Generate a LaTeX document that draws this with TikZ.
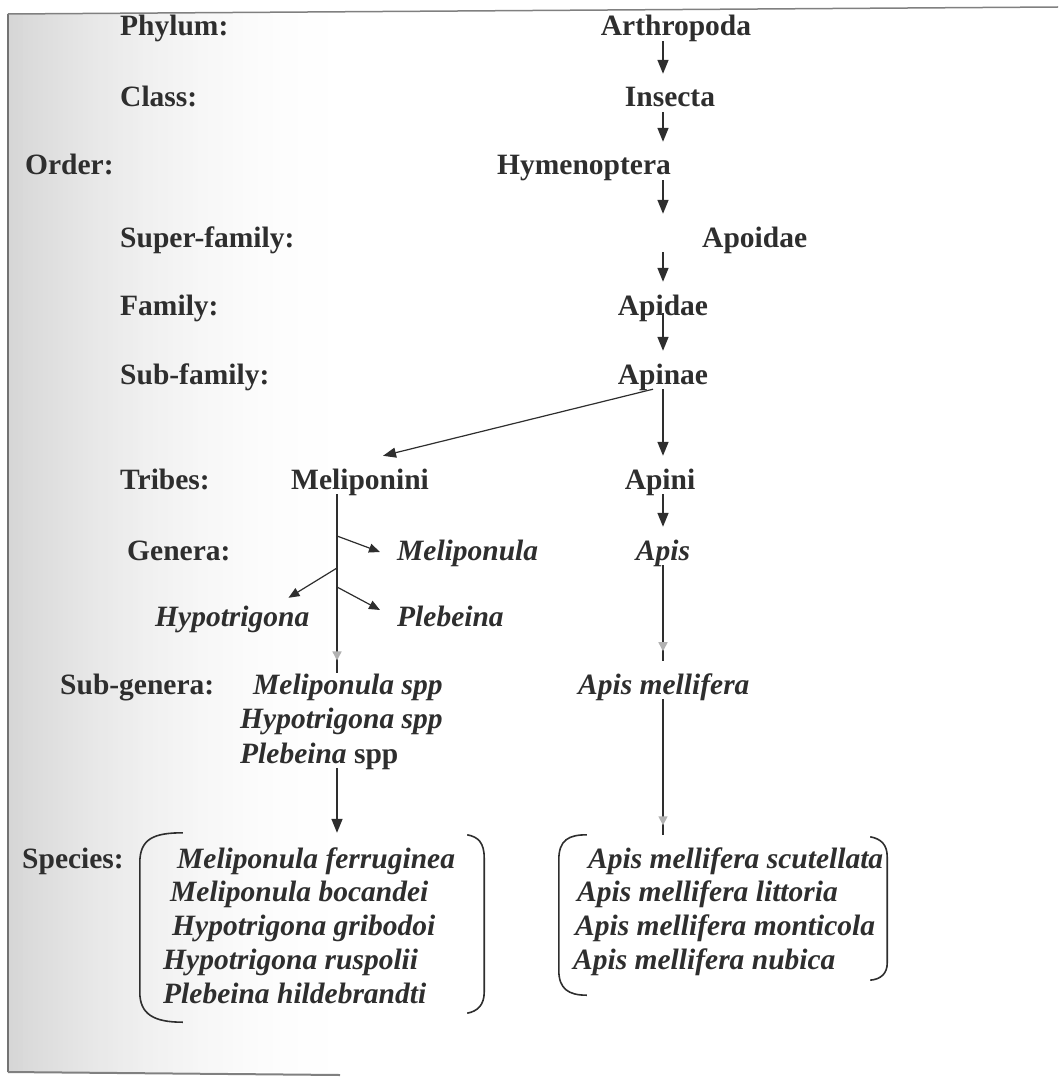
\documentclass[tikz,border=0pt]{standalone}
\usepackage{fontspec}
\setmainfont{Liberation Serif}
\usetikzlibrary{arrows.meta,decorations.markings}
\definecolor{ink}{HTML}{2E2E2E}
\begin{document}
\begin{tikzpicture}[x=1pt,y=-1pt,
  every node/.style={inner sep=0pt, text height=33pt, text depth=5pt, text=ink,
    font=\fontsize{29.5}{33}\selectfont\bfseries},
  lvl/.style={anchor=base west},
  tax/.style={anchor=base},
  taxw/.style={anchor=base west},
  spn/.style={anchor=base west, font=\fontsize{29.5}{33}\selectfont\bfseries\itshape},
  spc/.style={anchor=base, font=\fontsize{29.5}{33}\selectfont\bfseries\itshape},
  conn/.style={draw=ink, line width=1.5pt, -{Triangle[length=14pt,width=11pt]}},
  branch/.style={draw=ink, line width=1.2pt, -{Triangle[length=11pt,width=9pt]}},
  trunk/.style={draw=ink, line width=1.5pt},
  brk/.style={draw=ink, line width=1.6pt},
  ghost/.style={postaction=decorate, decoration={markings,
    mark=at position #1 with {\arrow{Triangle[length=9pt,width=9pt,color=black!30]}}}},
]
\useasboundingbox (0,0) rectangle (1058,1078);
% scan background (soft grey fading to the right) and frame
\foreach \i in {0,...,69} {
  \pgfmathsetmacro\shadeval{16*(1-\i/70)*(1-\i/70)}
  \fill[black!\shadeval] (8+\i*5,13) rectangle (8+\i*5+5.6,1072);
}
\draw[black!55, line width=2pt] (8,14) -- (8,1072);
\draw[black!50, line width=1.5pt] (8,14) -- (1058,7);
\draw[black!50, line width=2pt] (8,1072) -- (340,1075);

\coordinate (spine) at (663,0);
\coordinate (mtrunk) at (337,673);
\coordinate (b1) at (337,536);
\coordinate (b2) at (337,568);
\coordinate (b3) at (337,587);

% rank labels
\node[lvl] (lphy) at (120,36) {Phylum:};
\node[lvl] (lcla) at (120,107) {Class:};
\node[lvl] (lord) at (25,175) {Order:};
\node[lvl] (lsup) at (120,247) {Super-family:};
\node[lvl] (lfam) at (120,315) {Family:};
\node[lvl] (lsub) at (120,384) {Sub-family:};
\node[lvl] (ltri) at (120,489) {Tribes:};
\node[lvl] (lgen) at (127,560) {Genera:};
\node[lvl] (lsg) at (60,694) {Sub-genera:};
\node[lvl] (lspe) at (22,868) {Species:};

% taxa
\node[tax] (arth) at (676,36) {Arthropoda};
\node[tax] (ins) at (670,107) {Insecta};
\node[taxw] (hym) at (497,175) {Hymenoptera};
\node[taxw] (apoid) at (702,247) {Apoidae};
\node[tax] (apid) at (663,315) {Apidae};
\node[tax] (apin) at (663,384) {Apinae};
\node[tax] (melip) at (360,489) {Meliponini};
\node[tax] (apini) at (660,489) {Apini};
\node[spn] (gmel) at (397,560) {Meliponula};
\node[spc] (apis) at (663,560) {Apis};
\node[spn] (ghyp) at (155,626) {Hypotrigona};
\node[spn] (gple) at (397,626) {Plebeina};
\node[spn] (smel) at (253,694) {Meliponula spp};
\node[spn] (shyp) at (240,728) {Hypotrigona spp};
\node[taxw] (sple) at (240,763) {\itshape Plebeina\upshape{} spp};
\node[spn] (amel) at (578,694) {Apis mellifera};

% species
\node[spn] (s1) at (177,868) {Meliponula ferruginea};
\node[spn] (s2) at (170,901) {Meliponula bocandei};
\node[spn] (s3) at (172,935) {Hypotrigona gribodoi};
\node[spn] (s4) at (163,969) {Hypotrigona ruspolii};
\node[spn] (s5) at (163,1003) {Plebeina hildebrandti};
\node[spn] (r1) at (588,868) {Apis mellifera scutellata};
\node[spn] (r2) at (577,901) {Apis mellifera littoria};
\node[spn] (r3) at (575,935) {Apis mellifera monticola};
\node[spn] (r4) at (573,969) {Apis mellifera nubica};

% bracket groups
\node[minimum width=344pt, minimum height=189pt] (lbox) at (312,927.5) {};
\node[minimum width=328pt, minimum height=160pt] (rbox) at (723,915) {};

\draw[brk] ([xshift=43pt]lbox.north west) .. controls ([xshift=14pt]lbox.north west) and ([yshift=-6pt]lbox.north west) .. ([yshift=-30pt]lbox.north west)
  -- ([yshift=30pt]lbox.south west) .. controls ([yshift=8pt]lbox.south west) and ([xshift=14pt]lbox.south west) .. ([xshift=43pt]lbox.south west);
\draw[brk] ([xshift=-17pt,yshift=-2pt]lbox.north east) .. controls ([xshift=-6pt,yshift=-4pt]lbox.north east) and ([yshift=-10pt]lbox.north east) .. ([yshift=-25pt]lbox.north east)
  -- ([yshift=30pt]lbox.south east) .. controls ([yshift=18pt]lbox.south east) and ([xshift=-6pt,yshift=11pt]lbox.south east) .. ([xshift=-17pt,yshift=9pt]lbox.south east);
\draw[brk] ([xshift=28pt]rbox.north west) .. controls ([xshift=10pt]rbox.north west) and ([yshift=-5pt]rbox.north west) .. ([yshift=-25pt]rbox.north west)
  -- ([yshift=25pt]rbox.south west) .. controls ([yshift=6pt]rbox.south west) and ([xshift=10pt]rbox.south west) .. ([xshift=28pt]rbox.south west);
\draw[brk] ([xshift=-17pt,yshift=-2pt]rbox.north east) .. controls ([xshift=-6pt,yshift=-4pt]rbox.north east) and ([yshift=-10pt]rbox.north east) .. ([yshift=-22pt]rbox.north east)
  -- ([yshift=32pt]rbox.south east) .. controls ([yshift=22pt]rbox.south east) and ([xshift=-6pt,yshift=16pt]rbox.south east) .. ([xshift=-17pt,yshift=15pt]rbox.south east);

% connectors
\draw[conn] (arth.south -| spine) -- (ins.north -| spine);
\draw[conn] (ins.south -| spine) -- (hym.north -| spine);
\draw[conn] (hym.south -| spine) -- (apoid.north -| spine);
\draw[conn] (apoid.south -| spine) -- (apid.north);
\draw[conn] ([yshift=7pt]apid.south) -- (apin.north);
\draw[draw=ink, line width=1.2pt, -{Triangle[length=13pt,width=10pt]}] ([xshift=-10pt]apin.south) -- ([xshift=23pt]melip.north);
\draw[conn] (apin.south) -- (apini.north -| apin);
\draw[conn] (apini.south -| apis) -- (apis.north);

\draw[trunk, ghost=0.93] (melip.south -| mtrunk) -- (mtrunk);
\draw[branch] (b1) -- ([xshift=-17pt,yshift=-6pt]gmel.west);
\draw[branch] (b2) -- ([xshift=-21pt,yshift=-5pt]ghyp.north east);
\draw[branch] (b3) -- ([xshift=-17pt,yshift=2pt]gple.west);

\draw[trunk, ghost=0.9] (apis.south) -- (amel.north -| apis);
\draw[conn] (sple.south -| mtrunk) -- (lbox.north -| mtrunk);
\draw[trunk, ghost=0.93] (amel.south -| spine) -- (rbox.north -| spine);
\end{tikzpicture}
\end{document}
